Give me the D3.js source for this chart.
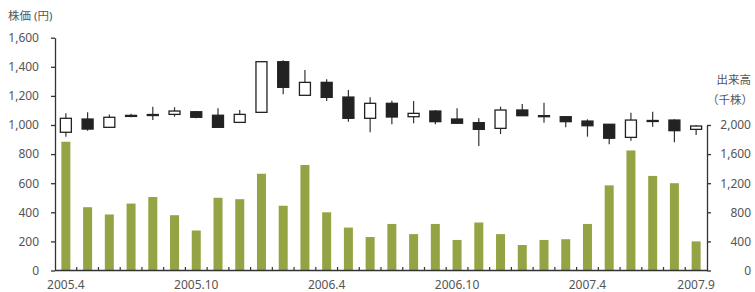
<!DOCTYPE html>
<html lang="ja">
<head>
    <meta charset="UTF-8">
    <title>株価と出来高</title>
    <script src="https://d3js.org/d3.v7.min.js"></script>
    <style>
        body { margin: 0; background: #fff; }
        text { font-family: "Noto Sans", "Noto Sans CJK JP", sans-serif; fill: #555; }
    </style>
</head>
<body>
    <svg id="chart" width="755" height="292"></svg>

    <script>
        // months on the category axis
        const months = [
            "2005.4", "2005.5", "2005.6", "2005.7", "2005.8", "2005.9", "2005.10", "2005.11", "2005.12",
            "2006.1", "2006.2", "2006.3", "2006.4", "2006.5", "2006.6", "2006.7", "2006.8", "2006.9",
            "2006.10", "2006.11", "2006.12", "2007.1", "2007.2", "2007.3", "2007.4", "2007.5", "2007.6",
            "2007.7", "2007.8", "2007.9"
        ];
        const monthLabels = ["2005.4", "2005.10", "2006.4", "2006.10", "2007.4", "2007.9"];

        // monthly prices (yen)
        const open  = [950, 1041, 984, 1066, 1070, 1073, 1091, 1067, 1018, 1087, 1435, 1204, 1293, 1192, 1046,
                       1149, 1057, 1096, 1041, 1016, 977, 1103, 1064, 1057, 1027, 1005, 915, 1031, 1034, 970];
        const high  = [1080, 1087, 1073, 1078, 1126, 1122, 1096, 1115, 1103, 1440, 1445, 1378, 1314, 1241, 1190,
                       1167, 1165, 1103, 1115, 1046, 1126, 1144, 1153, 1057, 1039, 1005, 1085, 1091, 1039, 1000];
        const low   = [920, 961, 984, 1053, 1034, 1057, 1046, 984, 1018, 1082, 1211, 1204, 1165, 1023, 950,
                       1005, 1012, 1005, 1007, 856, 938, 1064, 1016, 984, 920, 867, 892, 988, 881, 931];
        const close = [1046, 972, 1053, 1062, 1072, 1096, 1053, 984, 1073, 1435, 1259, 1293, 1190, 1046, 1149,
                       1055, 1080, 1023, 1012, 970, 1103, 1064, 1063, 1023, 995, 909, 1034, 1029, 961, 993];

        // monthly volume (thousand shares)
        const volume = [1770, 870, 770, 920, 1010, 760, 550, 1000, 980, 1330, 890, 1450, 800, 590, 460,
                        640, 500, 640, 420, 660, 500, 350, 420, 430, 640, 1170, 1650, 1300, 1200, 400];

        const priceTicks = [0, 200, 400, 600, 800, 1000, 1200, 1400, 1600];
        const volumeTicks = [0, 400, 800, 1200, 1600, 2000];

        const svg = d3.select("#chart");

        const x = d3.scaleBand().domain(months).range([55, 707]);
        const yPrice = d3.scaleLinear().domain([0, 1600]).range([270.5, 37.7]);
        const yVol = d3.scaleLinear().domain([0, 2000]).range([270.5, 125]);
        const cx = m => x(m) + x.bandwidth() / 2;

        // volume bars
        svg.append("g").selectAll("rect")
            .data(months)
            .enter().append("rect")
            .attr("x", m => cx(m) - 4.5)
            .attr("width", 9)
            .attr("y", (m, i) => yVol(volume[i]))
            .attr("height", (m, i) => yVol(0) - yVol(volume[i]))
            .attr("fill", "#94a444");

        // candles
        const candles = svg.append("g").selectAll("g")
            .data(months)
            .enter().append("g");

        candles.append("line")
            .attr("x1", cx).attr("x2", cx)
            .attr("y1", (m, i) => yPrice(high[i]))
            .attr("y2", (m, i) => yPrice(low[i]))
            .attr("stroke", "#333")
            .attr("stroke-width", 1.2);

        candles.append("rect")
            .attr("x", m => cx(m) - 5.5)
            .attr("width", 11)
            .attr("y", (m, i) => yPrice(Math.max(open[i], close[i])))
            .attr("height", (m, i) => Math.max(1, Math.abs(yPrice(open[i]) - yPrice(close[i]))))
            .attr("fill", (m, i) => close[i] >= open[i] ? "#fff" : "#222")
            .attr("stroke", "#222")
            .attr("stroke-width", 1.3);

        // left axis
        const leftAxis = svg.append("g")
            .attr("transform", "translate(55,0)")
            .call(d3.axisLeft(yPrice).tickValues(priceTicks).tickFormat(d3.format(",")).tickSize(4).tickSizeOuter(0).tickPadding(12));

        // right axis
        const rightAxis = svg.append("g")
            .attr("transform", "translate(707,0)")
            .call(d3.axisRight(yVol).tickValues(volumeTicks).tickFormat(d3.format(",")).tickSize(4).tickSizeOuter(0));
        rightAxis.selectAll("text").attr("text-anchor", "end").attr("x", 44);

        [leftAxis, rightAxis].forEach(a => {
            a.selectAll("path, line").attr("stroke", "#333").attr("stroke-width", 1.3);
            a.selectAll("text").style("font-size", "12px").attr("fill", "#555");
        });

        // bottom axis with ticks at month boundaries
        const bottom = svg.append("g");
        bottom.append("line")
            .attr("x1", 55).attr("x2", 707)
            .attr("y1", yPrice(0)).attr("y2", yPrice(0))
            .attr("stroke", "#333").attr("stroke-width", 1.6);
        bottom.selectAll(".tick")
            .data(months.slice(1))
            .enter().append("line")
            .attr("x1", m => x(m)).attr("x2", m => x(m))
            .attr("y1", yPrice(0)).attr("y2", yPrice(0) - 3.5)
            .attr("stroke", "#333").attr("stroke-width", 1.2);
        bottom.selectAll("text")
            .data(monthLabels)
            .enter().append("text")
            .attr("x", cx)
            .attr("y", 289)
            .attr("text-anchor", "middle")
            .style("font-size", "12px")
            .text(d => d);

        // axis titles
        svg.append("text")
            .attr("x", 8).attr("y", 20)
            .style("font-size", "11.5px")
            .text("株価 (円)");
        svg.append("text")
            .attr("x", 751).attr("y", 84)
            .attr("text-anchor", "end")
            .style("font-size", "11.5px")
            .text("出来高");
        svg.append("text")
            .attr("x", 753).attr("y", 104)
            .attr("text-anchor", "end")
            .style("font-size", "11.5px")
            .text("（千株）");
    </script>
</body>
</html>
